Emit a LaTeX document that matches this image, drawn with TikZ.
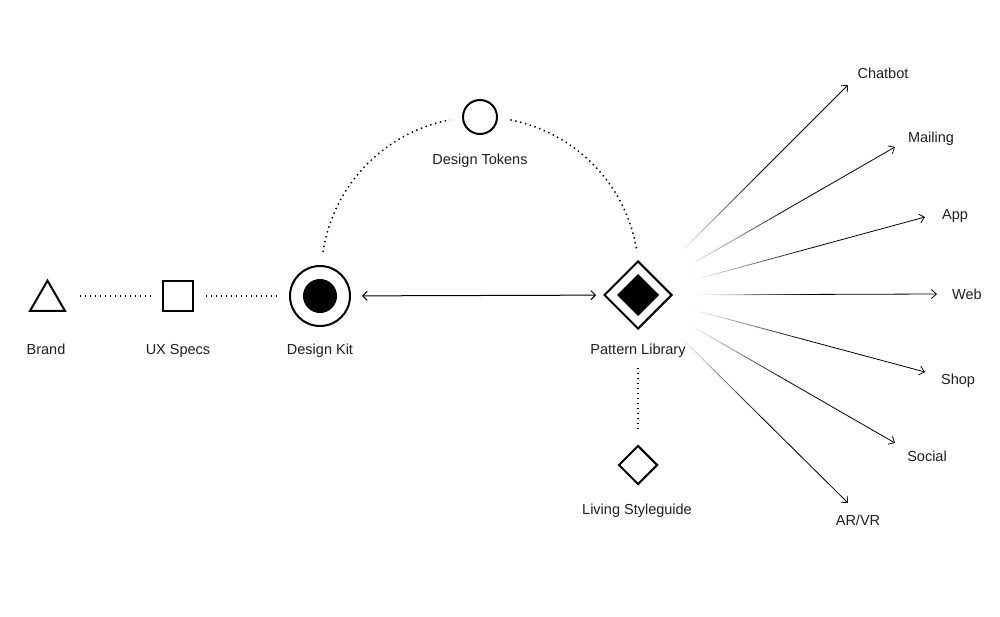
\documentclass[tikz,border=0pt]{standalone}
\usepackage{fontspec}
\setmainfont{Liberation Sans}
\usetikzlibrary{shapes.geometric,arrows.meta,calc}
\begin{document}
\begin{tikzpicture}[x=1pt,y=-1pt,
  lbl/.style={anchor=base, inner sep=0pt, font=\fontsize{14.5}{17}\selectfont, text=black!88},
  shp/.style={draw=black, line width=2pt, inner sep=0pt},
  dotline/.style={line width=1.5pt, dash pattern=on 1.4pt off 3.6pt, black},
  dbl/.style={line width=1pt, {Straight Barb[length=4.5pt,width=9pt]}-{Straight Barb[length=4.5pt,width=9pt]}},
  fanarrow/.style={line width=0.8pt, -{Straight Barb[length=5pt,width=9pt]}}]
\useasboundingbox (0,0) rectangle (1000,616);
\fill[white] (0,0) rectangle (1000,616);

% nodes
\node[shp, regular polygon, regular polygon sides=3, minimum size=40.4pt] (brand) at (47.5,300.8) {};
\node[shp, rectangle, minimum size=30pt] (ux) at (178,296) {};
\node[shp, circle, minimum size=60pt] (kit) at (320,296) {};
\fill (kit.center) circle (17);
\node[shp, diamond, minimum width=68pt, minimum height=68pt] (pl) at (638,295) {};
\fill ($(pl.center)+(-21,0)$) -- ($(pl.center)+(0,-21)$) -- ($(pl.center)+(21,0)$) -- ($(pl.center)+(0,21)$) -- cycle;
\node[shp, circle, minimum size=34pt] (tok) at (480,117) {};
\node[shp, diamond, minimum width=39pt, minimum height=39pt] (lsg) at (638,465) {};

% labels
\node[lbl] (brandl) at (46,354) {Brand};
\node[lbl] (uxl) at (178,354) {UX Specs};
\node[lbl] (kitl) at (320,354) {Design Kit};
\node[lbl] (pll) at (638,354) {Pattern Library};
\node[lbl] (tokl) at (480,164) {Design Tokens};
\node[lbl] (lsgl) at (637,514) {Living Styleguide};

% dotted connectors
\draw[dotline, shorten <=32.5pt, shorten >=11pt] (brand.center |- ux.center) -- (ux);
\draw[dotline, shorten <=12pt, shorten >=10pt] (ux) -- (kit);
\draw[dotline, shorten <=38pt, shorten >=13pt] (pl) -- (lsg);
\coordinate (arcc) at (480,275.8);
\draw[dotline] ([shift={(-171.4:158.8)}]arcc) arc[start angle=-171.4, end angle=-101, radius=158.8];
\draw[dotline] ([shift={(-79:158.8)}]arcc) arc[start angle=-79, end angle=-8.6, radius=158.8];

% double arrow
\draw[dbl, shorten <=11pt, shorten >=7pt] (kit) -- (pl);

% fan targets
\coordinate (tchat) at (848,85);
\coordinate (tmail) at (895,147);
\coordinate (tapp) at (925,217);
\coordinate (tweb) at (937,294);
\coordinate (tshop) at (925,372);
\coordinate (tsoc) at (895,443);
\coordinate (tar) at (848,503);

\node[lbl] (chat) at (883,78) {Chatbot};
\node[lbl] (mail) at (931,142) {Mailing};
\node[lbl] (app) at (955,219) {App};
\node[lbl] (web) at (967,299) {Web};
\node[lbl] (shop) at (958,384) {Shop};
\node[lbl] (soc) at (927,461) {Social};
\node[lbl] (arvr) at (858,525) {AR/VR};

\foreach \t in {tchat,tmail,tapp,tweb,tshop,tsoc,tar}{
  \foreach \k in {0,...,13}{
    \pgfmathsetmacro\a{58+\k*8}
    \pgfmathsetmacro\b{58+(\k+1)*8+0.3}
    \pgfmathtruncatemacro\c{2+\k*7}
    \draw[line width=0.8pt, black!\c] ($(pl.center)!\a pt!(\t)$) -- ($(pl.center)!\b pt!(\t)$);
  }
  \draw[fanarrow] ($(pl.center)!170pt!(\t)$) -- (\t);
}
\end{tikzpicture}
\end{document}
